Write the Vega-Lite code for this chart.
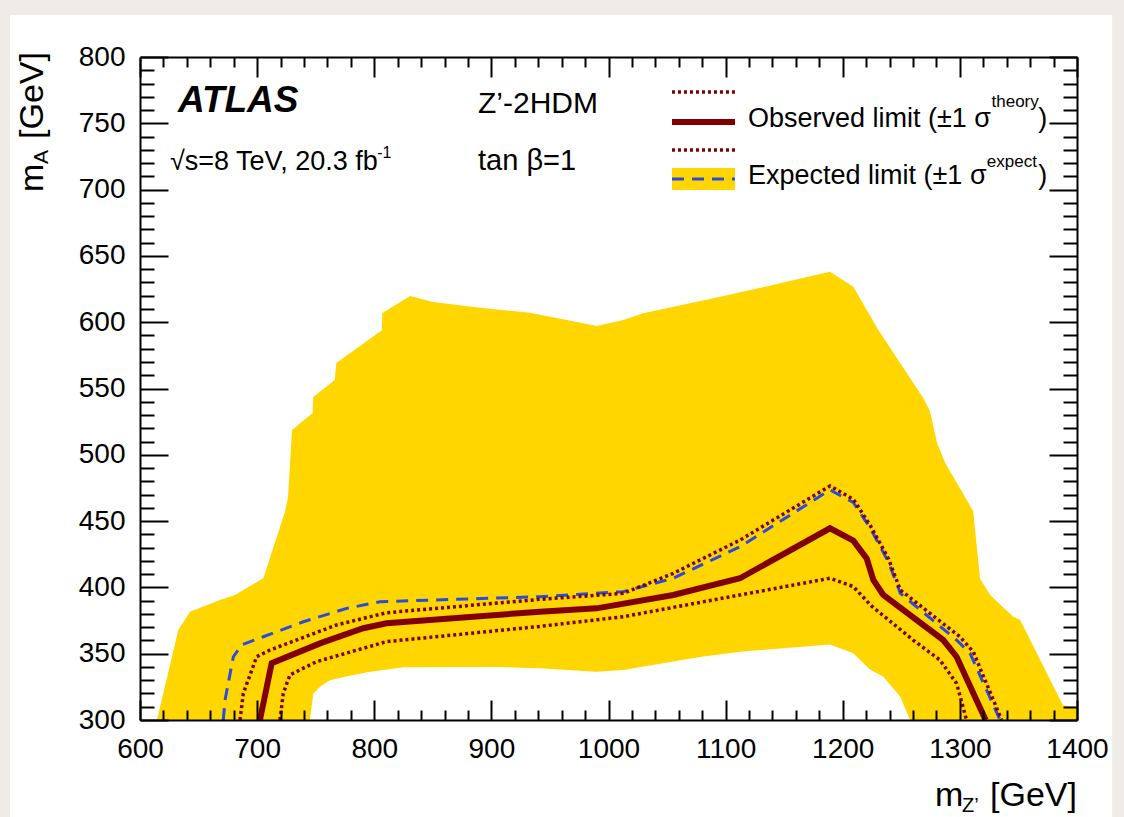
{
  "$schema": "https://vega.github.io/schema/vega-lite/v6.json",
  "width": 937,
  "height": 663,
  "autosize": {"type": "none"},
  "padding": {"left": 140, "top": 57, "right": 47, "bottom": 97},
  "background": "#efece7",
  "config": {"view": {"stroke": null}, "font": "Liberation Sans"},
  "resolve": {"axis": {"x": "independent", "y": "independent"}},
  "datasets": {
    "one": [{}],
    "band": [
      {"x": 614.5, "y": 300}, {"x": 632.7, "y": 367.9}, {"x": 642.7, "y": 381.7}, {"x": 668.3, "y": 390.5},
      {"x": 681.1, "y": 394.3}, {"x": 705.3, "y": 406.9}, {"x": 723.8, "y": 457}, {"x": 726.4, "y": 468.2},
      {"x": 729.8, "y": 518.7}, {"x": 747.4, "y": 531.5}, {"x": 747.9, "y": 543.6}, {"x": 766.3, "y": 556.4},
      {"x": 767.6, "y": 569.2}, {"x": 806.5, "y": 594}, {"x": 806.9, "y": 607}, {"x": 830.6, "y": 619.8},
      {"x": 850.2, "y": 615.2}, {"x": 890.3, "y": 610.9}, {"x": 933, "y": 607.2}, {"x": 989.9, "y": 597.1},
      {"x": 1012.6, "y": 601.7}, {"x": 1029.7, "y": 606.7}, {"x": 1089.4, "y": 618}, {"x": 1146.4, "y": 629.3},
      {"x": 1189.1, "y": 638.1}, {"x": 1209, "y": 626.8}, {"x": 1230.4, "y": 594.1}, {"x": 1268.7, "y": 542.8},
      {"x": 1274.6, "y": 532.5}, {"x": 1280.6, "y": 508.7}, {"x": 1287.5, "y": 493.8}, {"x": 1311.4, "y": 457.5},
      {"x": 1317.2, "y": 406.5}, {"x": 1326, "y": 394}, {"x": 1345.6, "y": 377.9}, {"x": 1351.5, "y": 375.5},
      {"x": 1388, "y": 311}, {"x": 1400, "y": 310}
    ],
    "hole": [
      {"x": 745, "y": 300}, {"x": 748, "y": 320}, {"x": 755, "y": 326}, {"x": 762.2, "y": 330},
      {"x": 776.8, "y": 333}, {"x": 796.4, "y": 336.4}, {"x": 824.8, "y": 339.8}, {"x": 907, "y": 340},
      {"x": 945, "y": 338.8}, {"x": 990, "y": 336.4}, {"x": 1012.6, "y": 337.7}, {"x": 1078, "y": 347.5},
      {"x": 1112.3, "y": 351.5}, {"x": 1189.1, "y": 357}, {"x": 1209, "y": 350.3}, {"x": 1223.3, "y": 338},
      {"x": 1234.6, "y": 332.7}, {"x": 1249.2, "y": 317.6}, {"x": 1257.4, "y": 300}
    ],
    "expected": [
      {"x": 671.1, "y": 300}, {"x": 672.6, "y": 315}, {"x": 679.7, "y": 347.7}, {"x": 686.8, "y": 356.6},
      {"x": 705.3, "y": 362.8}, {"x": 739.4, "y": 374.1}, {"x": 776.5, "y": 384.2}, {"x": 804.9, "y": 389.2},
      {"x": 941.5, "y": 393}, {"x": 1012.6, "y": 396.8}, {"x": 1055.3, "y": 406.9}, {"x": 1112.3, "y": 430.7},
      {"x": 1189.1, "y": 473.5}, {"x": 1209, "y": 464}, {"x": 1223.3, "y": 445}, {"x": 1238.9, "y": 419.4},
      {"x": 1249.2, "y": 395.5}, {"x": 1297.2, "y": 360.3}, {"x": 1308.7, "y": 350.3}, {"x": 1334.3, "y": 300}
    ],
    "obs_up": [
      {"x": 685.4, "y": 300}, {"x": 688.2, "y": 320}, {"x": 699.6, "y": 347.7}, {"x": 711, "y": 352.8},
      {"x": 767.9, "y": 371.7}, {"x": 810.5, "y": 380.9}, {"x": 941.5, "y": 391}, {"x": 1012.6, "y": 395.5},
      {"x": 1055.3, "y": 410.6}, {"x": 1112.3, "y": 435.7}, {"x": 1189.1, "y": 476.5}, {"x": 1209, "y": 466.5},
      {"x": 1223.3, "y": 447}, {"x": 1238.9, "y": 421.9}, {"x": 1249.2, "y": 398}, {"x": 1300, "y": 362.8},
      {"x": 1311.4, "y": 351.5}, {"x": 1335.7, "y": 300}
    ],
    "obs": [
      {"x": 702.4, "y": 300}, {"x": 712.4, "y": 342.8}, {"x": 753.7, "y": 357.8}, {"x": 790.6, "y": 369.2},
      {"x": 810.5, "y": 372.9}, {"x": 941.5, "y": 381.7}, {"x": 989.9, "y": 384.2}, {"x": 1055.3, "y": 394.3},
      {"x": 1112.3, "y": 406.9}, {"x": 1189.1, "y": 444.6}, {"x": 1209, "y": 435.3}, {"x": 1220.4, "y": 421.9},
      {"x": 1226.1, "y": 405.6}, {"x": 1234.6, "y": 394.3}, {"x": 1285.8, "y": 360.3}, {"x": 1297.2, "y": 347.7},
      {"x": 1322, "y": 300}
    ],
    "obs_dn": [
      {"x": 719.5, "y": 300}, {"x": 722.3, "y": 320}, {"x": 728, "y": 334}, {"x": 750.8, "y": 344},
      {"x": 810.5, "y": 359.1}, {"x": 941.5, "y": 370.6}, {"x": 1012.6, "y": 377.9}, {"x": 1112.3, "y": 394.3},
      {"x": 1189.1, "y": 406.9}, {"x": 1209, "y": 400.6}, {"x": 1224.5, "y": 386}, {"x": 1260.1, "y": 360.3},
      {"x": 1283, "y": 345.2}, {"x": 1297.2, "y": 327.6}, {"x": 1305.7, "y": 300}
    ]
  },
  "layer": [
    {
      "data": {"name": "one"},
      "mark": {"type": "rect", "fill": "white"},
      "encoding": {
        "x": {"datum": 489, "type": "quantitative", "axis": null},
        "x2": {"datum": 1430},
        "y": {"datum": 831.7, "type": "quantitative", "axis": null},
        "y2": {"datum": 226.8}
      }
    },
    {
      "data": {"name": "band"},
      "mark": {"type": "area", "color": "#ffd600", "interpolate": "linear"},
      "encoding": {
        "x": {
          "field": "x", "type": "quantitative",
          "scale": {"domain": [600, 1400], "nice": false, "zero": false},
          "axis": {
            "orient": "bottom", "title": null, "grid": false, "zindex": 1, "format": "d",
            "values": [600,620,640,660,680,700,720,740,760,780,800,820,840,860,880,900,920,940,960,980,1000,1020,1040,1060,1080,1100,1120,1140,1160,1180,1200,1220,1240,1260,1280,1300,1320,1340,1360,1380,1400],
            "tickSize": {"condition": {"test": "datum.value % 100 === 0", "value": -20}, "value": -10},
            "tickColor": "black", "tickWidth": 2, "domainColor": "black", "domainWidth": 2,
            "labelExpr": "datum.value % 100 === 0 ? datum.label : ''",
            "labelFont": "Liberation Sans", "labelFontSize": 28, "labelColor": "black",
            "labelPadding": 35, "labelFlush": false, "labelOverlap": false
          }
        },
        "y": {
          "field": "y", "type": "quantitative",
          "scale": {"domain": [300, 800], "nice": false, "zero": false},
          "axis": {
            "orient": "left", "title": null, "grid": false, "zindex": 1, "format": "d",
            "values": [300,310,320,330,340,350,360,370,380,390,400,410,420,430,440,450,460,470,480,490,500,510,520,530,540,550,560,570,580,590,600,610,620,630,640,650,660,670,680,690,700,710,720,730,740,750,760,770,780,790,800],
            "tickSize": {"condition": {"test": "datum.value % 50 === 0", "value": -28}, "value": -14},
            "tickColor": "black", "tickWidth": 2, "domainColor": "black", "domainWidth": 2,
            "labelExpr": "datum.value % 50 === 0 ? datum.label : ''",
            "labelFont": "Liberation Sans", "labelFontSize": 28, "labelColor": "black",
            "labelPadding": 43, "labelFlush": false, "labelOverlap": false
          }
        },
        "y2": {"datum": 300}
      }
    },
    {
      "data": {"name": "hole"},
      "mark": {"type": "area", "color": "white", "interpolate": "linear"},
      "encoding": {
        "x": {
          "field": "x", "type": "quantitative",
          "axis": {
            "orient": "top", "title": null, "grid": false, "zindex": 1, "labels": false,
            "values": [600,620,640,660,680,700,720,740,760,780,800,820,840,860,880,900,920,940,960,980,1000,1020,1040,1060,1080,1100,1120,1140,1160,1180,1200,1220,1240,1260,1280,1300,1320,1340,1360,1380,1400],
            "tickSize": {"condition": {"test": "datum.value % 100 === 0", "value": -20}, "value": -10},
            "tickColor": "black", "tickWidth": 2, "domainColor": "black", "domainWidth": 2
          }
        },
        "y": {
          "field": "y", "type": "quantitative",
          "axis": {
            "orient": "right", "title": null, "grid": false, "zindex": 1, "labels": false,
            "values": [300,310,320,330,340,350,360,370,380,390,400,410,420,430,440,450,460,470,480,490,500,510,520,530,540,550,560,570,580,590,600,610,620,630,640,650,660,670,680,690,700,710,720,730,740,750,760,770,780,790,800],
            "tickSize": {"condition": {"test": "datum.value % 50 === 0", "value": -28}, "value": -14},
            "tickColor": "black", "tickWidth": 2, "domainColor": "black", "domainWidth": 2
          }
        },
        "y2": {"datum": 300}
      }
    },
    {
      "data": {"name": "expected"},
      "mark": {"type": "line", "color": "#2a4bdc", "strokeWidth": 3, "strokeDash": [12, 8]},
      "encoding": {
        "x": {"field": "x", "type": "quantitative", "axis": null},
        "y": {"field": "y", "type": "quantitative", "axis": null}
      }
    },
    {
      "data": {"name": "obs_up"},
      "mark": {"type": "line", "color": "#800000", "strokeWidth": 3.5, "strokeDash": [3, 3]},
      "encoding": {
        "x": {"field": "x", "type": "quantitative", "axis": null},
        "y": {"field": "y", "type": "quantitative", "axis": null}
      }
    },
    {
      "data": {"name": "obs_dn"},
      "mark": {"type": "line", "color": "#800000", "strokeWidth": 3.5, "strokeDash": [3, 3]},
      "encoding": {
        "x": {"field": "x", "type": "quantitative", "axis": null},
        "y": {"field": "y", "type": "quantitative", "axis": null}
      }
    },
    {
      "data": {"name": "obs"},
      "mark": {"type": "line", "color": "#800000", "strokeWidth": 6},
      "encoding": {
        "x": {"field": "x", "type": "quantitative", "axis": null},
        "y": {"field": "y", "type": "quantitative", "axis": null}
      }
    },
    {
      "data": {"name": "one"},
      "mark": {"type": "rule", "color": "#800000", "strokeWidth": 3.5, "strokeDash": [3, 3]},
      "encoding": {"x": {"datum": 1054.2, "type": "quantitative", "axis": null}, "x2": {"datum": 1108}, "y": {"datum": 773.6, "type": "quantitative", "axis": null}}
    },
    {
      "data": {"name": "one"},
      "mark": {"type": "rule", "color": "#800000", "strokeWidth": 6},
      "encoding": {"x": {"datum": 1054.2, "type": "quantitative", "axis": null}, "x2": {"datum": 1108}, "y": {"datum": 751, "type": "quantitative", "axis": null}}
    },
    {
      "data": {"name": "one"},
      "mark": {"type": "rule", "color": "#800000", "strokeWidth": 3.5, "strokeDash": [3, 3]},
      "encoding": {"x": {"datum": 1054.2, "type": "quantitative", "axis": null}, "x2": {"datum": 1108}, "y": {"datum": 729.9, "type": "quantitative", "axis": null}}
    },
    {
      "data": {"name": "one"},
      "mark": {"type": "rect", "fill": "#ffd600"},
      "encoding": {"x": {"datum": 1054.2, "type": "quantitative", "axis": null}, "x2": {"datum": 1108}, "y": {"datum": 716.3, "type": "quantitative", "axis": null}, "y2": {"datum": 699.7}}
    },
    {
      "data": {"name": "one"},
      "mark": {"type": "rule", "color": "#2a4bdc", "strokeWidth": 3, "strokeDash": [12, 8]},
      "encoding": {"x": {"datum": 1054.2, "type": "quantitative", "axis": null}, "x2": {"datum": 1108}, "y": {"datum": 708, "type": "quantitative", "axis": null}}
    },
    {
      "data": {"name": "one"},
      "mark": {"type": "text", "text": "Observed limit (±1 σ", "align": "left", "baseline": "alphabetic", "fontSize": 27, "font": "Liberation Sans", "color": "black"},
      "encoding": {"x": {"datum": 1119.1, "type": "quantitative", "axis": null}, "y": {"datum": 747.2, "type": "quantitative", "axis": null}}
    },
    {
      "data": {"name": "one"},
      "mark": {"type": "text", "text": "theory", "align": "left", "baseline": "alphabetic", "fontSize": 17, "font": "Liberation Sans", "color": "black"},
      "encoding": {"x": {"datum": 1327, "type": "quantitative", "axis": null}, "y": {"datum": 762.3, "type": "quantitative", "axis": null}}
    },
    {
      "data": {"name": "one"},
      "mark": {"type": "text", "text": ")", "align": "left", "baseline": "alphabetic", "fontSize": 27, "font": "Liberation Sans", "color": "black"},
      "encoding": {"x": {"datum": 1367, "type": "quantitative", "axis": null}, "y": {"datum": 747.2, "type": "quantitative", "axis": null}}
    },
    {
      "data": {"name": "one"},
      "mark": {"type": "text", "text": "Expected limit (±1 σ", "align": "left", "baseline": "alphabetic", "fontSize": 27, "font": "Liberation Sans", "color": "black"},
      "encoding": {"x": {"datum": 1119.1, "type": "quantitative", "axis": null}, "y": {"datum": 704, "type": "quantitative", "axis": null}}
    },
    {
      "data": {"name": "one"},
      "mark": {"type": "text", "text": "expect", "align": "left", "baseline": "alphabetic", "fontSize": 17, "font": "Liberation Sans", "color": "black"},
      "encoding": {"x": {"datum": 1323, "type": "quantitative", "axis": null}, "y": {"datum": 717, "type": "quantitative", "axis": null}}
    },
    {
      "data": {"name": "one"},
      "mark": {"type": "text", "text": ")", "align": "left", "baseline": "alphabetic", "fontSize": 27, "font": "Liberation Sans", "color": "black"},
      "encoding": {"x": {"datum": 1367, "type": "quantitative", "axis": null}, "y": {"datum": 704, "type": "quantitative", "axis": null}}
    },
    {
      "data": {"name": "one"},
      "mark": {"type": "text", "text": "ATLAS", "align": "left", "baseline": "alphabetic", "fontSize": 37, "fontWeight": "bold", "fontStyle": "italic", "font": "Liberation Sans", "color": "black"},
      "encoding": {"x": {"datum": 632.4, "type": "quantitative", "axis": null}, "y": {"datum": 758.5, "type": "quantitative", "axis": null}}
    },
    {
      "data": {"name": "one"},
      "mark": {"type": "text", "text": "√s=8 TeV, 20.3 fb", "align": "left", "baseline": "alphabetic", "fontSize": 27, "font": "Liberation Sans", "color": "black"},
      "encoding": {"x": {"datum": 625.6, "type": "quantitative", "axis": null}, "y": {"datum": 714.8, "type": "quantitative", "axis": null}}
    },
    {
      "data": {"name": "one"},
      "mark": {"type": "text", "text": "-1", "align": "left", "baseline": "alphabetic", "fontSize": 16, "font": "Liberation Sans", "color": "black"},
      "encoding": {"x": {"datum": 802.5, "type": "quantitative", "axis": null}, "y": {"datum": 724, "type": "quantitative", "axis": null}}
    },
    {
      "data": {"name": "one"},
      "mark": {"type": "text", "text": "Z’-2HDM", "align": "left", "baseline": "alphabetic", "fontSize": 30, "font": "Liberation Sans", "color": "black"},
      "encoding": {"x": {"datum": 888.6, "type": "quantitative", "axis": null}, "y": {"datum": 757.8, "type": "quantitative", "axis": null}}
    },
    {
      "data": {"name": "one"},
      "mark": {"type": "text", "text": "tan β=1", "align": "left", "baseline": "alphabetic", "fontSize": 29, "font": "Liberation Sans", "color": "black"},
      "encoding": {"x": {"datum": 888.6, "type": "quantitative", "axis": null}, "y": {"datum": 714.8, "type": "quantitative", "axis": null}}
    },
    {
      "data": {"name": "one"},
      "mark": {"type": "text", "text": "m", "align": "left", "baseline": "alphabetic", "fontSize": 34, "font": "Liberation Sans", "color": "black"},
      "encoding": {"x": {"datum": 1278.7, "type": "quantitative", "axis": null}, "y": {"datum": 235, "type": "quantitative", "axis": null}}
    },
    {
      "data": {"name": "one"},
      "mark": {"type": "text", "text": "Z’", "align": "left", "baseline": "alphabetic", "fontSize": 20, "font": "Liberation Sans", "color": "black"},
      "encoding": {"x": {"datum": 1301.8, "type": "quantitative", "axis": null}, "y": {"datum": 230.5, "type": "quantitative", "axis": null}}
    },
    {
      "data": {"name": "one"},
      "mark": {"type": "text", "text": "[GeV]", "align": "right", "baseline": "alphabetic", "fontSize": 34, "font": "Liberation Sans", "color": "black"},
      "encoding": {"x": {"datum": 1400, "type": "quantitative", "axis": null}, "y": {"datum": 235, "type": "quantitative", "axis": null}}
    },
    {
      "data": {"name": "one"},
      "mark": {"type": "text", "text": "m", "align": "left", "baseline": "alphabetic", "angle": 270, "fontSize": 34, "font": "Liberation Sans", "color": "black"},
      "encoding": {"x": {"datum": 517.2, "type": "quantitative", "axis": null}, "y": {"datum": 698.2, "type": "quantitative", "axis": null}}
    },
    {
      "data": {"name": "one"},
      "mark": {"type": "text", "text": "A", "align": "left", "baseline": "alphabetic", "angle": 270, "fontSize": 21, "font": "Liberation Sans", "color": "black"},
      "encoding": {"x": {"datum": 521.5, "type": "quantitative", "axis": null}, "y": {"datum": 719.3, "type": "quantitative", "axis": null}}
    },
    {
      "data": {"name": "one"},
      "mark": {"type": "text", "text": "[GeV]", "align": "left", "baseline": "alphabetic", "angle": 270, "fontSize": 34, "font": "Liberation Sans", "color": "black"},
      "encoding": {"x": {"datum": 517.2, "type": "quantitative", "axis": null}, "y": {"datum": 738.2, "type": "quantitative", "axis": null}}
    }
  ]
}
